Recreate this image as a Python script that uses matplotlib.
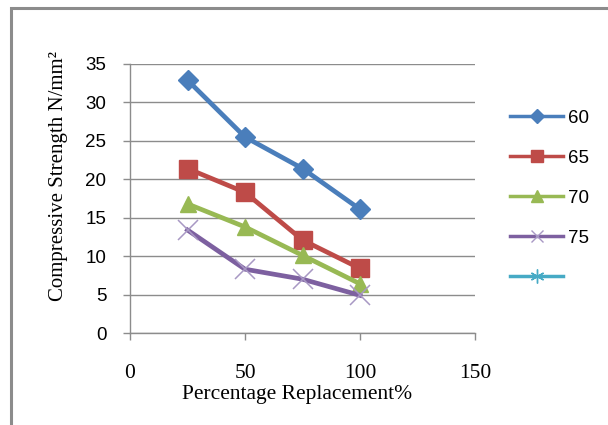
import matplotlib.pyplot as plt
from matplotlib.patches import Rectangle
from matplotlib.lines import Line2D

replacement = [25, 50, 75, 100]
series_names = ['60', '65', '70', '75']
strength_60 = [32.9, 25.5, 21.4, 16.1]
strength_65 = [21.4, 18.3, 12.1, 8.4]
strength_70 = [16.8, 13.8, 10.1, 6.4]
strength_75 = [13.4, 8.3, 7.0, 4.9]

colors = ['#4A7EBB', '#BE4B48', '#98B954', '#7D60A0']
markers = ['D', 's', '^', 'x']
msizes = [10, 13, 12, 14]

fig = plt.figure(figsize=(6.08, 4.25), dpi=100)

# outer chart border (runs off the right/bottom edge of the image)
fig.patches.append(Rectangle((11 / 608, -0.05), 1.0, 1 - 8 / 425 + 0.05,
                             transform=fig.transFigure, fill=False,
                             edgecolor='#8c8c8c', linewidth=2.2))

ax = fig.add_axes([130 / 608, 1 - 333 / 425, 345 / 608, 269 / 425])

data = [strength_60, strength_65, strength_70, strength_75]
for vals, c, m, ms in zip(data, colors, markers, msizes):
    if m == 'x':
        ax.plot(replacement, vals, color=c, linewidth=3.4, marker=m,
                markersize=ms, markeredgecolor='#A898C4', markeredgewidth=1.1,
                zorder=3)
    else:
        ax.plot(replacement, vals, color=c, linewidth=3.4, marker=m,
                markersize=ms, markeredgecolor=c, zorder=3)

ax.set_xlim(0, 150)
ax.set_ylim(0, 35)
ax.set_xticks([0, 50, 100, 150])
ax.set_yticks(range(0, 36, 5))
ax.yaxis.grid(True, color='#8c8c8c', linewidth=1.0)
ax.set_axisbelow(True)
for s in ['top', 'right']:
    ax.spines[s].set_visible(False)
for s in ['left', 'bottom']:
    ax.spines[s].set_color('#8c8c8c')
    ax.spines[s].set_linewidth(1.0)
ax.tick_params(axis='both', colors='#8c8c8c', length=5, width=1.0,
               labelcolor='black')
ax.tick_params(axis='x', pad=17, labelsize=15.5)
ax.tick_params(axis='y', pad=12, labelsize=13.5)
for lab in ax.get_xticklabels():
    lab.set_fontfamily('Liberation Serif')
for lab in ax.get_yticklabels():
    lab.set_fontfamily('Liberation Sans')

fig.text(297 / 608, 1 - 395 / 425, 'Percentage Replacement%',
         family='Liberation Serif', fontsize=15.5, ha='center', va='center')
fig.text(58 / 608, 1 - 176 / 425, 'Compressive Strength N/mm²',
         family='Liberation Serif', fontsize=15, ha='center', va='center',
         rotation=90)

handles = []
leg_sizes = [7, 8, 8, 9]
for c, m, ms in zip(colors, markers, leg_sizes):
    if m == 'x':
        handles.append(Line2D([], [], color=c, linewidth=2.5, marker=m,
                              markersize=ms, markeredgecolor='#A898C4'))
    else:
        handles.append(Line2D([], [], color=c, linewidth=2.5, marker=m,
                              markersize=ms, markeredgecolor=c))
handles.append(Line2D([], [], color='#46AAC5', linewidth=2.5,
                      marker=(6, 2, 0), markersize=10, markeredgewidth=1.0))
fig.legend(handles, series_names + [''], loc='upper left',
           bbox_to_anchor=(493 / 608, 1 - 93 / 425), frameon=False,
           handlelength=2.85, handletextpad=0.25, labelspacing=1.22,
           prop={'family': 'Liberation Sans', 'size': 13.5})

fig.savefig('out.png', dpi=100)
